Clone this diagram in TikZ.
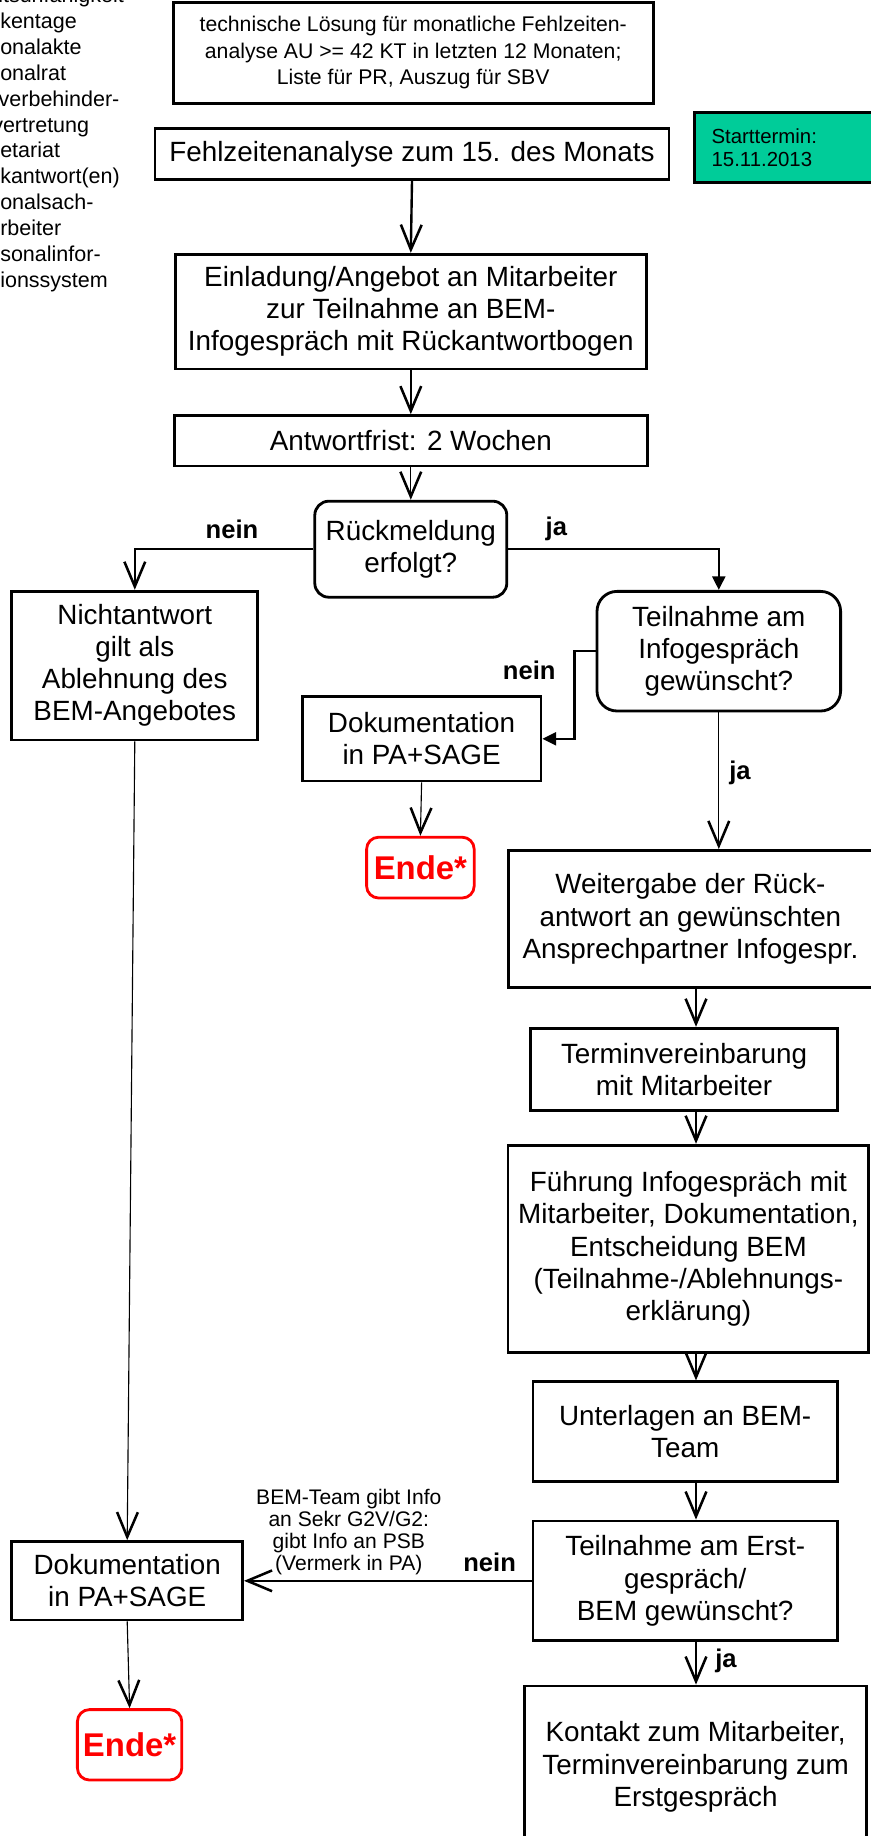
\documentclass[tikz,border=0pt]{standalone}
\usepackage{fontspec}
\setmainfont{Liberation Sans}
\usetikzlibrary{arrows.meta,calc}
\definecolor{startgreen}{RGB}{0,204,153}
\newcommand\bemfont{\fontsize{19.8}{22.8}\selectfont}
\newcommand\bemsmall{\fontsize{15.1}{19}\selectfont}
\newcommand\bemgreen{\fontsize{14.5}{16.6}\selectfont}
\newcommand\bemlegend{\fontsize{15.3}{18.4}\selectfont}
\newcommand\bemnote{\fontsize{15}{15.8}\selectfont}
\newcommand\bemjn{\fontsize{18.2}{20}\selectfont\bfseries}
\newcommand\bemende{\fontsize{23.4}{26}\selectfont\bfseries}
\tikzset{
	stepbox/.style={draw, line width=2pt, align=center, inner sep=0pt, font=\bemfont},
	askbox/.style={stepbox, rounded corners=#1},
	endbox/.style={draw=red, line width=2pt, rounded corners=0.3cm, text=red, font=\bemende, inner sep=0pt},
	jnlabel/.style={font=\bemjn, inner sep=0pt},
	vee/.style={-{Straight Barb[length=0.62cm,width=0.52cm,line width=1.8pt]}},
	tri/.style={-{Triangle[length=0.34cm,width=0.32cm]}},
	thickline/.style={line width=1.7pt},
	thinline/.style={line width=0.8pt}
}

\begin{document}
\begin{tikzpicture}
			%%%%% START %%%%%
			\useasboundingbox (0, 0) rectangle (21.75, -45.9);
			
			\node[anchor=north west, align=left, inner sep=0pt, font=\bemlegend] (legende) at (0, 0.33) {\hspace*{-0.05cm}itsunf\"ahigkeit\\kentage\\onalakte\\onalrat\\\hspace*{-0.04cm}verbehinder-\\\hspace*{-0.2cm}vertretung\\etariat\\kantwort(en)\\onalsach-\\rbeiter\\sonalinfor-\\ionssystem};
			
			\node[stepbox, font=\bemsmall, minimum width=12cm, minimum height=2.52cm] (technik) at (10.33, -1.32) {technische Lösung für monatliche Fehlzeiten-\\analyse AU >= 42 KT in letzten 12 Monaten;\\Liste für PR, Auszug für SBV};
			\node[stepbox, minimum width=12.85cm, minimum height=1.26cm] (analyse) at (10.30, -3.85) {Fehlzeitenanalyse zum 15. des Monats};
			\node[stepbox, fill=startgreen, font=\bemgreen, align=left, text width=4.34cm, inner xsep=0.43cm, minimum height=1.76cm] (start) at (19.96, -3.69) {Starttermin:\\15.11.2013};
			
			\node[stepbox, minimum width=11.77cm, minimum height=2.87cm] (invite) at (10.27, -7.79) {Einladung/Angebot an Mitarbeiter\\zur Teilnahme an BEM-\\Infogespräch mit Rückantwortbogen};
			\node[stepbox, minimum width=11.83cm, minimum height=1.26cm] (frist) at (10.27, -11.02) {Antwortfrist: 2 Wochen};
			\node[askbox=0.35cm, minimum width=4.8cm, minimum height=2.4cm] (rueck) at (10.27, -13.73) {Rückmeldung\\erfolgt?};
			
			\node[stepbox, minimum width=6.15cm, minimum height=3.72cm] (nicht) at (3.37, -16.64) {Nichtantwort\\gilt als\\Ablehnung des\\BEM-Angebotes};
			\node[askbox=0.5cm, minimum width=6.09cm, minimum height=2.99cm] (teil) at (17.97, -16.28) {Teilnahme am\\Infogespräch\\gewünscht?};
			\node[stepbox, minimum width=5.97cm, minimum height=2.11cm] (dokmid) at (10.54, -18.47) {Dokumentation\\in PA+SAGE};
			\node[endbox, minimum width=2.69cm, minimum height=1.52cm] (ende1) at (10.51, -21.69) {Ende*};
			
			\coordinate (col) at (17.40, -22);
			\node[stepbox, minimum width=9.10cm, minimum height=3.42cm] (weiter) at (17.26, -22.97) {Weitergabe der Rück-\\antwort an gewünschten\\Ansprechpartner Infogespr.};
			\node[stepbox, minimum width=7.67cm, minimum height=2.05cm] (termin) at (17.10, -26.73) {Terminvereinbarung\\mit Mitarbeiter};
			\node[stepbox, minimum width=9.02cm, minimum height=5.18cm] (fuehrung) at (17.21, -31.22) {Führung Infogespräch mit\\Mitarbeiter, Dokumentation,\\Entscheidung BEM\\(Teilnahme-/Ablehnungs-\\erklärung)};
			\node[stepbox, minimum width=7.61cm, minimum height=2.49cm] (unterlagen) at (17.13, -35.79) {Unterlagen an BEM-\\Team};
			\node[stepbox, minimum width=7.61cm, minimum height=2.99cm] (erst) at (17.13, -39.52) {Teilnahme am Erst-\\gespräch/\\BEM gewünscht?};
			\node[stepbox, minimum width=8.55cm, minimum height=4.04cm] (kontakt) at (17.39, -44.17) {Kontakt zum Mitarbeiter,\\Terminvereinbarung zum\\Erstgespräch};
			
			\node[stepbox, minimum width=5.77cm, minimum height=1.96cm] (dokleft) at (3.18, -39.52) {Dokumentation\\in PA+SAGE};
			\node[endbox, minimum width=2.61cm, minimum height=1.76cm] (ende2) at (3.24, -43.62) {Ende*};
			
			\node[jnlabel] (nein1) at (5.80, -13.23) {nein};
			\node[jnlabel] (ja1) at (13.91, -13.23) {ja};
			\node[jnlabel] (nein2) at (13.23, -16.77) {nein};
			\node[jnlabel] (ja2) at (18.50, -19.32) {ja};
			\node[jnlabel] (nein3) at (12.24, -39.05) {nein};
			\node[jnlabel] (ja3) at (18.15, -41.51) {ja};
			\node[align=center, inner sep=0pt, font=\bemnote] (info) at (8.72, -38.30) {BEM-Team gibt Info\\an Sekr G2V/G2:\\gibt Info an PSB\\(Vermerk in PA)};
			
			\draw[thickline, vee] (analyse.south) -- (invite.north);
			\draw[thickline, vee] (invite.south) -- (frist.north);
			\draw[thinline, vee] (frist.south) -- (rueck.north);
			\draw[thickline, vee] (rueck.west) -| (nicht.north);
			\draw[thickline, tri] (rueck.east) -| (teil.north);
			\draw[thickline, tri] (teil.west) -- ++(-0.53, 0) |- (dokmid.east);
			\draw[thinline, vee] (teil.south) -- (teil.south |- weiter.north);
			\draw[thinline, vee] (dokmid.south) -- (ende1.north);
			\draw[thinline, vee] (nicht.south) -- (dokleft.north);
			
			\draw[thinline, vee] (weiter.south -| col) -- (termin.north -| col);
			\draw[thickline, vee] (termin.south -| col) -- (fuehrung.north -| col);
			\draw[thinline, vee] (fuehrung.south -| col) -- (unterlagen.north -| col);
			\draw[thickline, vee] (unterlagen.south -| col) -- (erst.north -| col);
			\draw[thickline, vee] (erst.west) -- (dokleft.east);
			\draw[thinline, vee] (erst.south -| col) -- (kontakt.north -| col);
			\draw[thinline, vee] (dokleft.south) -- (ende2.north);
			
			%%%%% END %%%%%
\end{tikzpicture}
\end{document}
